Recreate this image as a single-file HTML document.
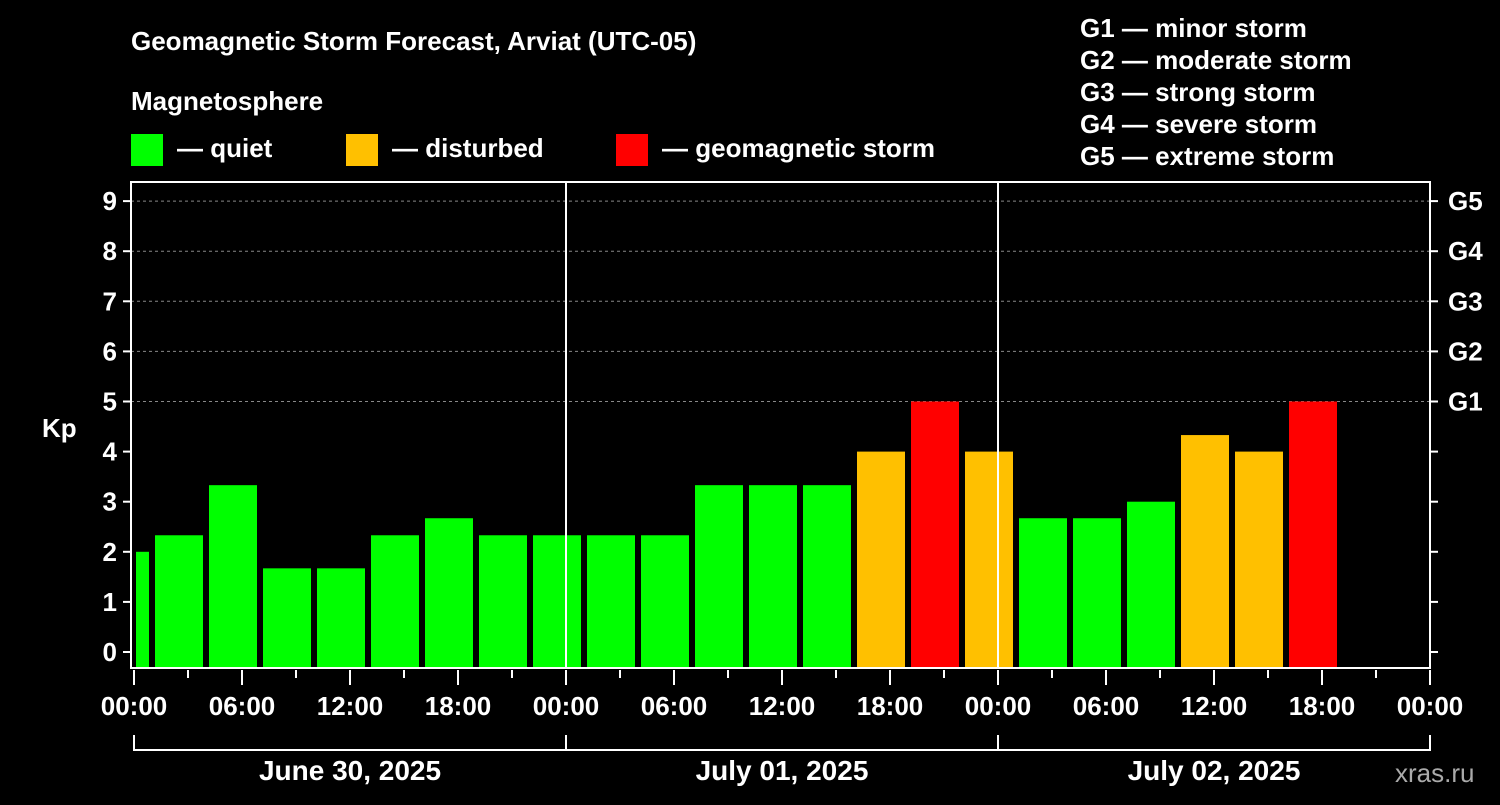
<!DOCTYPE html>
<html><head><meta charset="utf-8"><style>
body{margin:0;background:#000;width:1500px;height:800px;overflow:hidden}
svg text{font-family:"Liberation Sans",Arial,sans-serif;font-weight:bold;fill:#fff}
</style></head><body>
<svg id="chart" width="1500" height="800" xmlns="http://www.w3.org/2000/svg">
<rect width="1500" height="800" fill="#000"/>
<text x="131" y="50" font-size="26">Geomagnetic Storm Forecast, Arviat (UTC-05)</text>
<text x="131" y="110" font-size="26">Magnetosphere</text>
<g><rect x="131" y="134" width="32" height="32" fill="#00ff00"/><text x="177" y="157" font-size="26">— quiet</text></g>
<g><rect x="346" y="134" width="32" height="32" fill="#ffc000"/><text x="392" y="157" font-size="26">— disturbed</text></g>
<g><rect x="616" y="134" width="32" height="32" fill="#ff0000"/><text x="662" y="157" font-size="26">— geomagnetic storm</text></g>
<g font-size="26">
<text x="1080" y="37">G1 — minor storm</text>
<text x="1080" y="69">G2 — moderate storm</text>
<text x="1080" y="101">G3 — strong storm</text>
<text x="1080" y="133">G4 — severe storm</text>
<text x="1080" y="165">G5 — extreme storm</text>
</g>
<text x="42" y="437" font-size="26">Kp</text>
<text x="1395" y="782" font-size="26" fill="#aaa" style="fill:#aaa;font-weight:normal">xras.ru</text>
<g id="grid"></g><g id="bars"></g><g id="axes"></g>
</svg>
<script>
const values=[2.0,2.33,3.33,1.67,1.67,2.33,2.67,2.33,2.33,2.33,2.33,3.33,3.33,3.33,4,5,4,2.67,2.67,3,4.33,4,5];
const startHours=[-2,1,4,7,10,13,16,19,22,25,28,31,34,37,40,43,46,49,52,55,58,61,64];
const dayLabels=["June 30, 2025","July 01, 2025","July 02, 2025"];
const hourLabels=["00:00","06:00","12:00","18:00"];
const gLabels=["G1","G2","G3","G4","G5"];
const NS="http://www.w3.org/2000/svg";
const L=131,R=1430,T=182,B=668,X0=134;
const x=h=>X0+h*(432/24);
const y=v=>652-v*50.1;
function mk(tag,attrs,parent,txt){const e=document.createElementNS(NS,tag);for(const k in attrs)e.setAttribute(k,attrs[k]);if(txt!==undefined)e.textContent=txt;parent.appendChild(e);return e;}
const grid=document.getElementById('grid'),bars=document.getElementById('bars'),axes=document.getElementById('axes');
for(let k=5;k<=9;k++){const l=mk('line',{x1:L,x2:R,y1:y(k),y2:y(k),stroke:'#888','stroke-dasharray':'3,3','stroke-width':1},grid);

}
values.forEach((v,i)=>{let x1=x(startHours[i])+3,x2=x(startHours[i]+3)-3;x1=Math.max(x1,X0+2);
const c=v>=5?'#ff0000':(v>=4?'#ffc000':'#00ff00');
const r=mk('rect',{x:x1,y:y(v),width:x2-x1,height:B-y(v),fill:c},bars);

});
mk('rect',{x:L,y:T,width:R-L,height:B-T,fill:'none',stroke:'#fff','stroke-width':2},axes);
for(let d=1;d<3;d++){const l=mk('line',{x1:x(24*d),x2:x(24*d),y1:T,y2:B,stroke:'#fff','stroke-width':2},axes);

}
for(let k=0;k<=9;k++){mk('line',{x1:L-8,x2:L,y1:y(k),y2:y(k),stroke:'#fff','stroke-width':2},axes);
mk('line',{x1:R,x2:R+8,y1:y(k),y2:y(k),stroke:'#fff','stroke-width':2},axes);
const t=mk('text',{x:L-14,y:y(k)+9,'font-size':26,'text-anchor':'end'},axes,String(k));

}
gLabels.forEach((g,i)=>{const t=mk('text',{x:R+18,y:y(5+i)+9,'font-size':26},axes,g);

});
for(let h=0;h<=72;h+=3){const major=h%6===0;mk('line',{x1:x(h),x2:x(h),y1:B+2,y2:B+(major?17:10),stroke:'#fff','stroke-width':2},axes);
if(major){const t=mk('text',{x:x(h),y:B+47,'font-size':26,'text-anchor':'middle'},axes,hourLabels[(h/6)%4]);

}}
mk('polyline',{points:`${x(0)},735 ${x(0)},750 ${x(72)},750 ${x(72)},735`,fill:'none',stroke:'#fff','stroke-width':2},axes);
for(let d=1;d<3;d++)mk('line',{x1:x(24*d),x2:x(24*d),y1:735,y2:750,stroke:'#fff','stroke-width':2},axes);
dayLabels.forEach((s,d)=>{const t=mk('text',{x:x(24*d+12),y:780,'font-size':28,'text-anchor':'middle'},axes,s);

});
</script>
</body></html>
